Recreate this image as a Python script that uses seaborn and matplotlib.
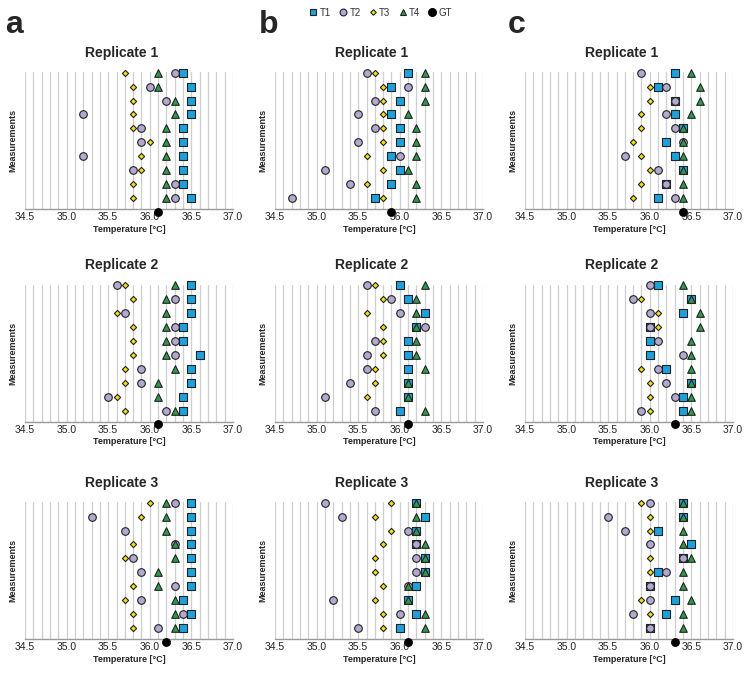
import numpy as np
import pandas as pd
import matplotlib
matplotlib.use("Agg")
import matplotlib.pyplot as plt
import seaborn as sns
from matplotlib.lines import Line2D

# Messwerte, Zeilen von oben (Messung 1) nach unten (Messung 10)
measurement = list(range(10, 0, -1))
series_names = ["T1", "T2", "T3", "T4"]
replicate_titles = ["Replicate 1", "Replicate 2", "Replicate 3"]
panel_letters = ["a", "b", "c"]
temp_ticks = [34.5, 35.0, 35.5, 36.0, 36.5, 37.0]

# Panel a
a1_t1 = [36.4, 36.5, 36.5, 36.5, 36.4, 36.4, 36.4, 36.4, 36.4, 36.5]
a1_t2 = [36.3, 36.0, 36.2, 35.2, 35.9, 35.9, 35.2, 35.8, 36.3, 36.3]
a1_t3 = [35.7, 35.8, 35.8, 35.8, 35.8, 36.0, 35.9, 35.9, 35.8, 35.8]
a1_t4 = [36.1, 36.1, 36.3, 36.3, 36.2, 36.2, 36.2, 36.2, 36.2, 36.2]

a2_t1 = [36.5, 36.5, 36.5, 36.4, 36.4, 36.6, 36.5, 36.5, 36.4, 36.4]
a2_t2 = [35.6, 36.3, 35.7, 36.3, 36.3, 36.3, 35.9, 35.9, 35.5, 36.2]
a2_t3 = [35.7, 35.8, 35.6, 35.8, 35.8, 35.8, 35.7, 35.7, 35.6, 35.7]
a2_t4 = [36.3, 36.2, 36.2, 36.2, 36.2, 36.2, 36.3, 36.1, 36.1, 36.3]

a3_t1 = [36.5, 36.5, 36.5, 36.5, 36.5, 36.5, 36.5, 36.4, 36.5, 36.4]
a3_t2 = [36.3, 35.3, 35.7, 36.3, 35.8, 35.9, 36.3, 35.9, 36.4, 36.1]
a3_t3 = [36.0, 35.9, 35.7, 35.8, 35.7, 35.9, 35.8, 35.7, 35.8, 35.8]
a3_t4 = [36.2, 36.2, 36.2, 36.3, 36.3, 36.1, 36.1, 36.3, 36.3, 36.3]

# Panel b
b1_t1 = [36.1, 35.9, 36.0, 35.9, 36.0, 36.0, 35.9, 36.0, 35.9, 35.7]
b1_t2 = [35.6, 36.1, 35.7, 35.5, 35.7, 35.5, 36.0, 35.1, 35.4, 34.7]
b1_t3 = [35.7, 35.8, 35.8, 35.8, 35.8, 35.8, 35.6, 35.8, 35.6, 35.8]
b1_t4 = [36.3, 36.3, 36.3, 36.1, 36.2, 36.2, 36.2, 36.1, 36.2, 36.2]

b2_t1 = [36.0, 36.1, 36.3, 36.2, 36.1, 36.1, 36.1, 36.1, 36.1, 36.0]
b2_t2 = [35.6, 35.9, 36.0, 36.3, 35.7, 35.6, 35.6, 35.4, 35.1, 35.7]
b2_t3 = [35.7, 35.8, 35.6, 35.8, 35.8, 35.8, 35.7, 35.7, 35.6, 35.7]
b2_t4 = [36.3, 36.2, 36.2, 36.2, 36.2, 36.2, 36.3, 36.1, 36.1, 36.3]

b3_t1 = [36.2, 36.3, 36.2, 36.2, 36.3, 36.3, 36.2, 36.1, 36.2, 36.0]
b3_t2 = [35.1, 35.3, 36.1, 36.2, 36.2, 36.2, 36.1, 35.2, 36.0, 35.5]
b3_t3 = [35.9, 35.7, 35.9, 35.8, 35.7, 35.7, 35.8, 35.7, 35.8, 35.8]
b3_t4 = [36.2, 36.2, 36.2, 36.3, 36.3, 36.3, 36.1, 36.1, 36.3, 36.3]

# Panel c
c1_t1 = [36.3, 36.1, 36.3, 36.3, 36.4, 36.2, 36.3, 36.4, 36.2, 36.1]
c1_t2 = [35.9, 36.2, 36.3, 36.2, 36.3, 36.4, 35.7, 36.1, 36.2, 36.3]
c1_t3 = [35.9, 36.0, 36.0, 35.9, 35.9, 35.8, 35.9, 36.0, 35.9, 35.8]
c1_t4 = [36.5, 36.6, 36.6, 36.5, 36.4, 36.4, 36.4, 36.4, 36.4, 36.4]

c2_t1 = [36.1, 36.5, 36.4, 36.0, 36.0, 36.0, 36.2, 36.5, 36.4, 36.4]
c2_t2 = [36.0, 35.8, 36.0, 36.0, 36.1, 36.4, 36.1, 36.2, 36.3, 35.9]
c2_t3 = [36.0, 35.9, 36.1, 36.1, 36.1, 36.0, 35.9, 36.0, 36.0, 36.0]
c2_t4 = [36.4, 36.5, 36.6, 36.6, 36.5, 36.5, 36.5, 36.5, 36.5, 36.5]

c3_t1 = [36.4, 36.4, 36.1, 36.5, 36.4, 36.1, 36.0, 36.3, 36.2, 36.0]
c3_t2 = [36.0, 35.5, 35.7, 36.0, 36.4, 36.2, 36.0, 36.0, 35.8, 36.0]
c3_t3 = [35.9, 36.0, 36.0, 36.0, 36.0, 36.0, 36.0, 35.9, 36.0, 36.0]
c3_t4 = [36.4, 36.4, 36.4, 36.4, 36.5, 36.4, 36.4, 36.5, 36.4, 36.4]

# Ground truth je Replikat
gt_a = [36.1, 36.1, 36.2]
gt_b = [35.9, 36.1, 36.1]
gt_c = [36.4, 36.3, 36.3]

panels = {
    "a": [(a1_t1, a1_t2, a1_t3, a1_t4), (a2_t1, a2_t2, a2_t3, a2_t4), (a3_t1, a3_t2, a3_t3, a3_t4)],
    "b": [(b1_t1, b1_t2, b1_t3, b1_t4), (b2_t1, b2_t2, b2_t3, b2_t4), (b3_t1, b3_t2, b3_t3, b3_t4)],
    "c": [(c1_t1, c1_t2, c1_t3, c1_t4), (c2_t1, c2_t2, c2_t3, c2_t4), (c3_t1, c3_t2, c3_t3, c3_t4)],
}
ground_truth = {"a": gt_a, "b": gt_b, "c": gt_c}

# Stil je Serie
styles = {
    "T1": dict(marker="s", color="#1da1dc", s=26),
    "T2": dict(marker="o", color="#b3a8d0", s=30),
    "T3": dict(marker="D", color="#f5e400", s=10),
    "T4": dict(marker="^", color="#2f9a4a", s=30),
}
draw_order = ["T3", "T1", "T2", "T4"]

sns.set_theme(style="white")
plt.rcParams["font.family"] = ["Liberation Sans", "DejaVu Sans"]

fig = plt.figure(figsize=(7.47, 6.73), dpi=100)
W, H = 747, 673
lefts = [25, 275, 525]
bottoms = [209, 421.7, 639]
ax_w, ax_h = 208, 137

for ci, letter in enumerate(panel_letters):
    for ri in range(3):
        ax = fig.add_axes([lefts[ci] / W, 1 - bottoms[ri] / H, ax_w / W, ax_h / H])
        vals = dict(zip(series_names, panels[letter][ri]))
        for name in draw_order:
            df = pd.DataFrame({"temp": vals[name], "row": measurement})
            st = styles[name]
            sns.scatterplot(data=df, x="temp", y="row", ax=ax, marker=st["marker"],
                            color=st["color"], s=st["s"], edgecolor="#222222",
                            linewidth=0.8, zorder=3, clip_on=False, legend=False)
        gt_df = pd.DataFrame({"temp": [ground_truth[letter][ri]], "row": [0]})
        sns.scatterplot(data=gt_df, x="temp", y="row", ax=ax, marker="o", color="black",
                        s=34, edgecolor="black", linewidth=0.5, zorder=4,
                        clip_on=False, legend=False)

        ax.set_xlim(34.5, 37.0)
        ax.set_ylim(0.2, 10.05)
        ax.set_xticks(temp_ticks)
        ax.set_xticklabels([f"{t:.1f}" for t in temp_ticks])
        ax.set_xticks(np.arange(34.5, 37.01, 0.1), minor=True)
        ax.set_yticks([])
        ax.grid(True, axis="x", which="both", color="#cfcfcf", linewidth=0.9, zorder=0)
        ax.set_axisbelow(True)
        for side in ["top", "left", "right"]:
            ax.spines[side].set_visible(False)
        ax.spines["bottom"].set_color("#9a9a9a")
        ax.spines["bottom"].set_linewidth(1.0)
        ax.tick_params(axis="x", which="both", length=0, pad=2.5, labelsize=7.5,
                       labelcolor="#222222")
        ax.set_xlabel("")
        ax.set_ylabel("")
        ax.text(0.5, -20 / ax_h, "Temperature [°C]", transform=ax.transAxes,
                ha="center", va="center", fontsize=6.5, fontweight="bold")
        ax.text(-12 / ax_w, 0.5, "Measurements", transform=ax.transAxes, rotation=90,
                ha="center", va="center", fontsize=6.5, fontweight="bold")
        ax.text(0.466, 1 + 19.5 / ax_h, replicate_titles[ri], transform=ax.transAxes,
                ha="center", va="center", fontsize=10, fontweight="bold")

    fig.text([5, 259, 508][ci] / W, 1 - 33 / H, letter, ha="left", va="baseline",
             fontsize=23, fontweight="bold")

handles = [Line2D([], [], linestyle="none", marker=styles[n]["marker"],
                  markerfacecolor=styles[n]["color"], markeredgecolor="#222222",
                  markeredgewidth=0.8, markersize=np.sqrt(styles[n]["s"]) * 0.9) for n in series_names]
handles.append(Line2D([], [], linestyle="none", marker="o", markerfacecolor="black",
                      markeredgecolor="black", markersize=np.sqrt(30)))
fig.legend(handles, series_names + ["GT"], loc="center", bbox_to_anchor=(381 / W, 1 - 12.5 / H),
           ncol=5, frameon=False, fontsize=7, handlelength=0.7, handletextpad=0.3,
           columnspacing=0.9, labelcolor="#333333")

fig.savefig("out.png", dpi=100)
plt.close(fig)
